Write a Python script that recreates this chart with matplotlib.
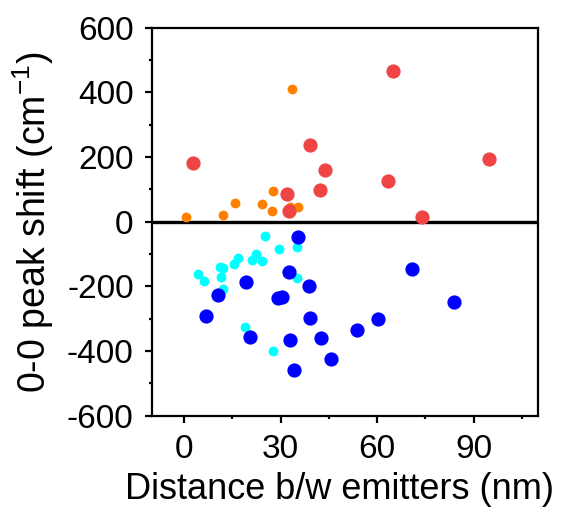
import numpy as np
import matplotlib
matplotlib.use("Agg")
import matplotlib.pyplot as plt
from matplotlib.ticker import MultipleLocator

plt.rcParams['font.family'] = ['Liberation Sans', 'DejaVu Sans']
plt.rcParams['axes.unicode_minus'] = False
plt.rcParams['mathtext.default'] = 'regular'

# red: large positive shifts
red_x = [65.0, 39.0, 2.8, 94.6, 43.7, 63.3, 42.2, 32.1, 32.5, 73.8]
red_y = [466, 238, 181, 193, 159, 125, 97, 85, 34, 15]

# orange: small positive shifts
orange_x = [33.7, 27.8, 16.0, 24.1, 27.3, 33.0, 35.4, 12.2, 0.7]
orange_y = [410, 94, 58, 55, 34, 46, 44, 21, 15]

# cyan: small negative shifts
cyan_x = [25.1, 29.5, 35.2, 16.9, 22.4, 21.1, 24.3, 15.4, 11.2, 12.1,
          4.4, 6.2, 11.5, 35.0, 12.1, 18.9, 27.8]
cyan_y = [-44, -83, -78, -111, -101, -117, -123, -131, -139, -143,
          -162, -184, -172, -174, -209, -325, -399]

# blue: large negative shifts
blue_x = [35.5, 70.7, 32.7, 19.2, 38.9, 10.5, 29.1, 30.4, 83.7, 6.9,
          39.0, 60.3, 53.6, 20.5, 32.9, 42.5, 45.8, 34.1]
blue_y = [-48, -145, -157, -186, -198, -226, -236, -232, -248, -291,
          -297, -301, -335, -355, -365, -361, -426, -458]

fig = plt.figure(figsize=(5.61, 5.12), dpi=100)
ax = fig.add_axes([0.2704, 0.188, 0.689, 0.758])

ax.axhline(0, color='black', lw=2.4, zorder=1)
ax.scatter(orange_x, orange_y, s=50, color='#FF8000', zorder=2, linewidths=0)
ax.scatter(red_x, red_y, s=105, color='#EF4444', zorder=3, linewidths=0)
ax.scatter(cyan_x, cyan_y, s=50, color='#00FFFF', zorder=2, linewidths=0)
ax.scatter(blue_x, blue_y, s=105, color='#0000FF', zorder=3, linewidths=0)

ax.set_xlim(-10, 110)
ax.set_ylim(-600, 600)
ax.xaxis.set_major_locator(MultipleLocator(30))
ax.xaxis.set_minor_locator(MultipleLocator(15))
ax.yaxis.set_major_locator(MultipleLocator(200))
ax.yaxis.set_minor_locator(MultipleLocator(100))
ax.tick_params(which='major', direction='out', length=5, width=1.6,
               labelsize=24, pad=8)
ax.tick_params(which='minor', direction='out', length=2.5, width=1.6)
for sp in ax.spines.values():
    sp.set_linewidth(1.6)

ax.set_xlabel('Distance b/w emitters (nm)', fontsize=26, labelpad=5)
ax.xaxis.label.set_x(0.487)
ax.set_ylabel('0-0 peak shift (cm$^{-1}$)', fontsize=27, labelpad=8)

fig.savefig('out.png', dpi=100)
